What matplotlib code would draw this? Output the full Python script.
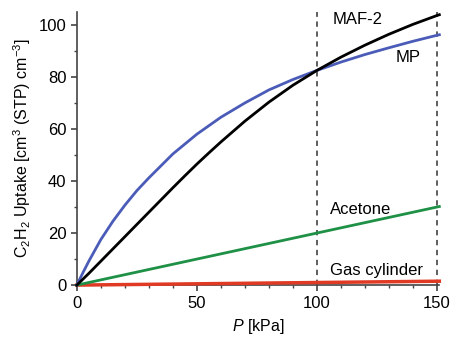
import matplotlib
matplotlib.use("Agg")
import matplotlib.pyplot as plt
from matplotlib.ticker import MultipleLocator

plt.rcParams['font.family'] = ['Liberation Sans', 'DejaVu Sans']
plt.rcParams['mathtext.fontset'] = 'custom'
plt.rcParams['mathtext.rm'] = 'Liberation Sans'
plt.rcParams['mathtext.it'] = 'Liberation Sans:italic'

# pressure grid (kPa) and uptake
p_maf = [0, 5, 10, 20, 30, 40, 45, 50, 55, 60, 70, 80, 90, 100, 110, 120, 130, 140, 150, 151]
u_maf = [0, 4.5, 9.2, 18.6, 28, 37.4, 42, 46.5, 50.8, 55, 63, 70.3, 76.8, 82.5, 87.6, 92.2, 96.4, 100.2, 103.6, 103.9]

p_mp = [0, 2.5, 5, 10, 15, 20, 25, 30, 40, 50, 60, 70, 80, 90, 100, 110, 120, 130, 140, 150, 151]
u_mp = [0, 4.7, 9.2, 17.5, 24.5, 30.7, 36.3, 41.2, 50.4, 58, 64.5, 70, 75, 79, 82.5, 85.7, 88.6, 91.2, 93.7, 96, 96.2]

p_acetone = [0, 151]
u_acetone = [0, 30.2]

p_gas = [0, 151]
u_gas = [0, 1.5]

labels = ["MAF-2", "MP", "Acetone", "Gas cylinder"]
label_pos = [(117, 102), (138, 87.5), (118, 29), (125, 5.8)]

fig = plt.figure(figsize=(4.52, 3.39), dpi=100)
ax = fig.add_axes([0.170, 0.159, 0.802, 0.806])

ax.axvline(100, color='#333333', lw=1.1, ls=(0, (3.5, 3)))
ax.axvline(150, color='#333333', lw=1.1, ls=(0, (3.5, 3)))

ax.plot(p_gas, u_gas, color='#e03a24', lw=2.5, clip_on=False, zorder=3)
ax.plot(p_acetone, u_acetone, color='#1e9146', lw=2.0, clip_on=False, zorder=3)
ax.plot(p_mp, u_mp, color='#4b5cb8', lw=2.0, clip_on=False, zorder=4)
ax.plot(p_maf, u_maf, color='black', lw=2.0, clip_on=False, zorder=5)

for t, (x, y) in zip(labels, label_pos):
    ax.text(x, y, t, ha='center', va='center', fontsize=12)

ax.set_xlim(0, 151)
ax.set_ylim(0, 105)
ax.xaxis.set_major_locator(MultipleLocator(50))
ax.xaxis.set_minor_locator(MultipleLocator(10))
ax.yaxis.set_major_locator(MultipleLocator(20))
ax.yaxis.set_minor_locator(MultipleLocator(10))

for s in ['top', 'right']:
    ax.spines[s].set_visible(False)
for s in ['left', 'bottom']:
    ax.spines[s].set_color('#444444')
    ax.spines[s].set_linewidth(1.2)

ax.tick_params(which='major', direction='out', length=4, width=1.2, color='#444444', labelsize=12)
ax.tick_params(which='minor', direction='out', length=2.5, width=1.0, color='#444444')

ax.set_xlabel('$P$ [kPa]', fontsize=11.5, labelpad=5)
ax.set_ylabel('C$_2$H$_2$ Uptake [cm$^3$ (STP) cm$^{-3}$]', fontsize=11.5, labelpad=4)

fig.savefig('out.png', dpi=100)
